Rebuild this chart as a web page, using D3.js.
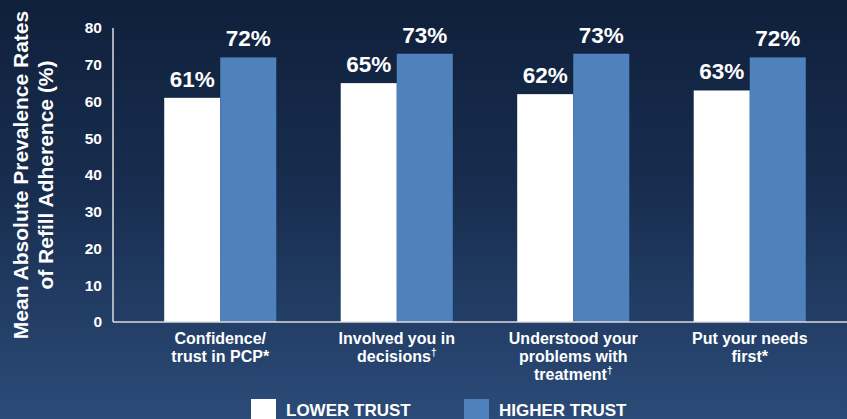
<!DOCTYPE html>
<meta charset="utf-8">
<style>
    body { margin: 0; }
    svg { display: block; font-family: "Liberation Sans", Arial, sans-serif; font-weight: bold; }
</style>
<svg width="847" height="419"></svg>
<script src="https://d3js.org/d3.v7.min.js"></script>
<script>
    // data
    var categories = [
        ["Confidence/", "trust in PCP*"],
        ["Involved you in", "decisions\u2020"],
        ["Understood your", "problems with", "treatment\u2020"],
        ["Put your needs", "first*"]
    ];
    var series = ["LOWER TRUST", "HIGHER TRUST"];
    var lowerTrust = [61, 65, 62, 63];
    var higherTrust = [72, 73, 73, 72];
    var yTicks = [0, 10, 20, 30, 40, 50, 60, 70, 80];

    var svg = d3.select("svg"),
        width = +svg.attr("width"),
        height = +svg.attr("height");

    var defs = svg.append("defs");
    var grad = defs.append("linearGradient")
        .attr("id", "bg")
        .attr("x1", 0).attr("y1", 0).attr("x2", 0).attr("y2", 1);
    grad.append("stop").attr("offset", "0%").attr("stop-color", "#0f203b");
    grad.append("stop").attr("offset", "45%").attr("stop-color", "#182d4f");
    grad.append("stop").attr("offset", "100%").attr("stop-color", "#2b4b78");

    svg.append("rect")
        .attr("width", width)
        .attr("height", height)
        .attr("fill", "url(#bg)");

    var color = d3.scaleOrdinal().domain(series).range(["#ffffff", "#4f81bd"]);

    var x0 = d3.scaleBand()
        .domain(d3.range(categories.length))
        .range([132, 838])
        .paddingInner(0.365)
        .paddingOuter(0.1825);

    var x1 = d3.scaleBand()
        .domain(series)
        .range([0, x0.bandwidth()]);

    var y = d3.scaleLinear()
        .domain([0, 80])
        .range([322, 28]);

    var rows = categories.map(function (c, i) {
        return { i: i, values: [
            { key: series[0], value: lowerTrust[i] },
            { key: series[1], value: higherTrust[i] }
        ] };
    });

    // axis lines
    svg.append("line")
        .attr("x1", 113).attr("x2", 113)
        .attr("y1", y(80)).attr("y2", y(0))
        .attr("stroke", "#dcdcdc")
        .attr("stroke-width", 1.5);

    // y tick labels
    svg.append("g")
        .selectAll("text")
        .data(yTicks)
        .enter().append("text")
        .attr("x", 102)
        .attr("y", function (d) { return y(d); })
        .attr("dy", "0.35em")
        .attr("text-anchor", "end")
        .attr("fill", "#fff")
        .attr("font-size", 15.5)
        .text(function (d) { return d; });

    // y title
    var title = svg.append("text")
        .attr("transform", "translate(0,175)rotate(-90)")
        .attr("text-anchor", "middle")
        .attr("fill", "#fff")
        .attr("font-size", 21);
    title.append("tspan").attr("x", 0).attr("y", 28).text("Mean Absolute Prevalence Rates");
    title.append("tspan").attr("x", 0).attr("y", 53).text("of Refill Adherence (%)");

    // bars
    var group = svg.append("g")
        .selectAll("g")
        .data(rows)
        .enter().append("g")
        .attr("transform", function (d) { return "translate(" + x0(d.i) + ",0)"; });

    group.selectAll("rect")
        .data(function (d) { return d.values; })
        .enter().append("rect")
        .attr("x", function (d) { return x1(d.key); })
        .attr("y", function (d) { return y(d.value); })
        .attr("width", x1.bandwidth())
        .attr("height", function (d) { return y(0) - y(d.value); })
        .attr("fill", function (d) { return color(d.key); });

    group.selectAll("text.value")
        .data(function (d) { return d.values; })
        .enter().append("text")
        .attr("class", "value")
        .attr("x", function (d) { return x1(d.key) + x1.bandwidth() / 2; })
        .attr("y", function (d) { return y(d.value) - 11; })
        .attr("text-anchor", "middle")
        .attr("fill", "#fff")
        .attr("font-size", 22.5)
        .text(function (d) { return d.value + "%"; });

    svg.append("line")
        .attr("x1", 113).attr("x2", width)
        .attr("y1", y(0)).attr("y2", y(0))
        .attr("stroke", "#dcdcdc")
        .attr("stroke-width", 1.5);

    // category labels
    var cat = svg.append("g")
        .selectAll("text")
        .data(rows)
        .enter().append("text")
        .attr("text-anchor", "middle")
        .attr("fill", "#fff")
        .attr("font-size", 16);

    cat.each(function (d) {
        var t = d3.select(this),
            cx = x0(d.i) + x0.bandwidth() / 2;
        categories[d.i].forEach(function (line, j) {
            var ts = t.append("tspan")
                .attr("x", cx)
                .attr("y", 344 + j * 18);
            if (line.slice(-1) === "\u2020") {
                ts.append("tspan").text(line.slice(0, -1));
                ts.append("tspan")
                    .attr("font-size", 10)
                    .attr("dy", -6)
                    .text("\u2020");
            } else {
                ts.text(line);
            }
        });
    });

    // legend
    var legendX = [251, 464];
    var legend = svg.append("g")
        .selectAll("g")
        .data(series)
        .enter().append("g")
        .attr("transform", function (d, i) { return "translate(" + legendX[i] + ",399)"; });

    legend.append("rect")
        .attr("width", 25)
        .attr("height", 25)
        .attr("fill", color);

    legend.append("text")
        .attr("x", 35)
        .attr("y", 17)
        .attr("fill", "#fff")
        .attr("font-size", 17)
        .text(function (d) { return d; });
</script>
